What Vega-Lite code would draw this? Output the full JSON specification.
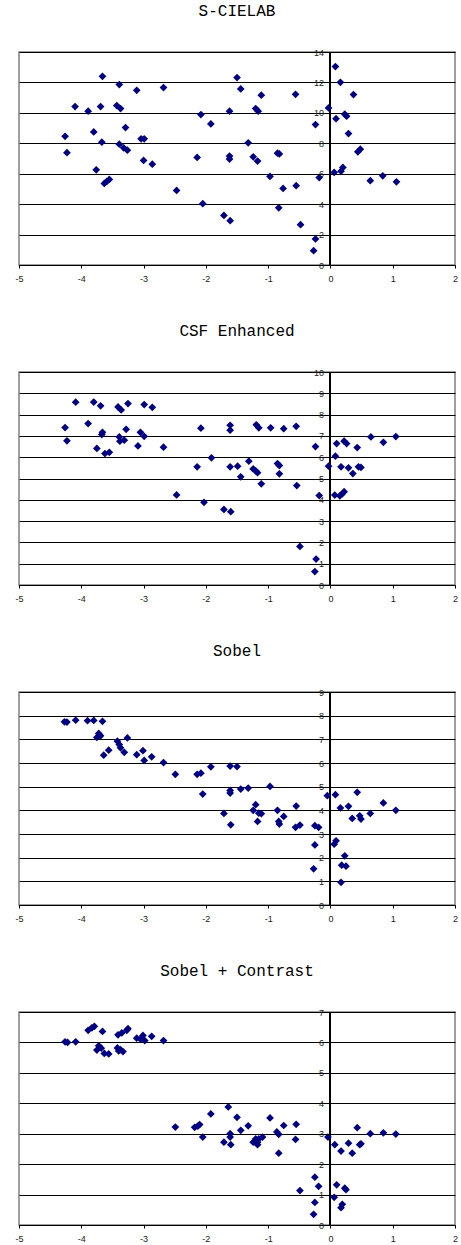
{
  "$schema": "https://vega.github.io/schema/vega-lite/v6.json",
  "background": "white",
  "padding": {"left": 14, "top": 2, "right": 5, "bottom": 3},
  "spacing": 107,
  "bounds": "flush",
  "config": {
    "view": {"stroke": "#808080", "strokeWidth": 1.5},
    "axis": {"grid": false, "labelFont": "Liberation Sans", "labelFontSize": 9, "labelColor": "#222222", "title": null},
    "title": {"font": "Liberation Mono", "fontSize": 16, "fontWeight": "normal", "color": "#000000", "offset": 29, "frame": "group", "anchor": "middle"}
  },
  "datasets": {
    "scielab": [
      {"x": -4.26, "y": 8.46}, {"x": -4.23, "y": 7.38}, {"x": -4.10, "y": 10.41}, {"x": -3.89, "y": 10.11},
      {"x": -3.80, "y": 8.75}, {"x": -3.66, "y": 12.40}, {"x": -3.69, "y": 10.41}, {"x": -3.67, "y": 8.07},
      {"x": -3.39, "y": 11.86}, {"x": -3.43, "y": 10.48}, {"x": -3.37, "y": 10.28}, {"x": -3.29, "y": 9.03},
      {"x": -3.39, "y": 7.94}, {"x": -3.32, "y": 7.70}, {"x": -3.26, "y": 7.55}, {"x": -3.11, "y": 11.48},
      {"x": -3.04, "y": 8.29}, {"x": -2.99, "y": 8.29}, {"x": -2.68, "y": 11.66}, {"x": -2.14, "y": 7.07},
      {"x": -2.08, "y": 9.89}, {"x": -1.92, "y": 9.27}, {"x": -1.62, "y": 10.11}, {"x": -1.50, "y": 12.32},
      {"x": -1.44, "y": 11.57}, {"x": -1.62, "y": 7.16}, {"x": -1.62, "y": 6.96}, {"x": -1.32, "y": 8.03},
      {"x": -1.20, "y": 10.28}, {"x": -1.16, "y": 10.11}, {"x": -1.11, "y": 11.16}, {"x": -1.24, "y": 7.11},
      {"x": -1.17, "y": 6.83}, {"x": -0.85, "y": 7.35}, {"x": -0.82, "y": 7.30}, {"x": -0.56, "y": 11.22},
      {"x": -0.24, "y": 9.23}, {"x": -0.03, "y": 10.32}, {"x": 0.08, "y": 13.04}, {"x": 0.16, "y": 12.01},
      {"x": 0.09, "y": 9.62}, {"x": 0.23, "y": 9.91}, {"x": 0.26, "y": 9.78}, {"x": 0.37, "y": 11.20},
      {"x": 0.29, "y": 8.64}, {"x": 0.44, "y": 7.44}, {"x": 0.48, "y": 7.61}, {"x": -3.76, "y": 6.26},
      {"x": -3.63, "y": 5.36}, {"x": -3.59, "y": 5.49}, {"x": -3.55, "y": 5.62}, {"x": -3.00, "y": 6.87},
      {"x": -2.86, "y": 6.63}, {"x": -2.47, "y": 4.90}, {"x": -2.05, "y": 4.03}, {"x": -1.71, "y": 3.26},
      {"x": -1.61, "y": 2.91}, {"x": -0.97, "y": 5.82}, {"x": -0.76, "y": 5.03}, {"x": -0.83, "y": 3.76},
      {"x": -0.55, "y": 5.21}, {"x": -0.48, "y": 2.65}, {"x": -0.18, "y": 5.75}, {"x": -0.24, "y": 1.71},
      {"x": -0.27, "y": 0.94}, {"x": 0.06, "y": 6.08}, {"x": 0.17, "y": 6.17}, {"x": 0.20, "y": 6.41},
      {"x": 0.64, "y": 5.54}, {"x": 0.84, "y": 5.86}, {"x": 1.06, "y": 5.47}
    ],
    "csf": [
      {"x": -4.26, "y": 7.39}, {"x": -4.23, "y": 6.77}, {"x": -4.09, "y": 8.58}, {"x": -3.89, "y": 7.58},
      {"x": -3.80, "y": 8.59}, {"x": -3.69, "y": 8.41}, {"x": -3.75, "y": 6.41}, {"x": -3.66, "y": 7.17},
      {"x": -3.67, "y": 7.06}, {"x": -3.62, "y": 6.17}, {"x": -3.55, "y": 6.23}, {"x": -3.41, "y": 8.36},
      {"x": -3.36, "y": 8.22}, {"x": -3.25, "y": 8.52}, {"x": -3.28, "y": 7.31}, {"x": -3.39, "y": 6.95},
      {"x": -3.38, "y": 6.75}, {"x": -3.31, "y": 6.80}, {"x": -3.05, "y": 7.17}, {"x": -2.99, "y": 6.98},
      {"x": -2.99, "y": 8.47}, {"x": -2.86, "y": 8.34}, {"x": -3.09, "y": 6.53}, {"x": -2.68, "y": 6.47},
      {"x": -2.08, "y": 7.36}, {"x": -1.61, "y": 7.50}, {"x": -1.61, "y": 7.27}, {"x": -1.91, "y": 5.97},
      {"x": -1.19, "y": 7.52}, {"x": -1.15, "y": 7.38}, {"x": -0.96, "y": 7.38}, {"x": -0.75, "y": 7.34},
      {"x": -0.55, "y": 7.45}, {"x": -0.24, "y": 6.50}, {"x": 0.10, "y": 6.64}, {"x": 0.22, "y": 6.75},
      {"x": 0.26, "y": 6.64}, {"x": 0.43, "y": 6.45}, {"x": 0.65, "y": 6.95}, {"x": 0.85, "y": 6.70},
      {"x": 1.05, "y": 6.97}, {"x": 0.08, "y": 6.05}, {"x": -2.14, "y": 5.55}, {"x": -1.61, "y": 5.55},
      {"x": -1.49, "y": 5.58}, {"x": -1.44, "y": 5.08}, {"x": -1.31, "y": 5.81}, {"x": -1.24, "y": 5.45},
      {"x": -1.20, "y": 5.36}, {"x": -1.17, "y": 5.27}, {"x": -1.11, "y": 4.75}, {"x": -0.85, "y": 5.70},
      {"x": -0.82, "y": 5.61}, {"x": -0.82, "y": 5.22}, {"x": -0.54, "y": 4.67}, {"x": -2.47, "y": 4.23},
      {"x": -2.03, "y": 3.88}, {"x": -1.71, "y": 3.55}, {"x": -1.60, "y": 3.44}, {"x": -0.49, "y": 1.81},
      {"x": -0.23, "y": 1.22}, {"x": -0.25, "y": 0.63}, {"x": -0.18, "y": 4.20}, {"x": -0.03, "y": 5.58},
      {"x": 0.07, "y": 4.22}, {"x": 0.17, "y": 5.55}, {"x": 0.15, "y": 4.19}, {"x": 0.19, "y": 4.28},
      {"x": 0.22, "y": 4.38}, {"x": 0.29, "y": 5.50}, {"x": 0.36, "y": 5.23}, {"x": 0.45, "y": 5.55},
      {"x": 0.49, "y": 5.52}
    ],
    "sobel": [
      {"x": -4.27, "y": 7.74}, {"x": -4.23, "y": 7.73}, {"x": -4.09, "y": 7.81}, {"x": -3.90, "y": 7.79},
      {"x": -3.80, "y": 7.80}, {"x": -3.66, "y": 7.76}, {"x": -3.72, "y": 7.25}, {"x": -3.75, "y": 7.08},
      {"x": -3.69, "y": 7.15}, {"x": -3.64, "y": 6.33}, {"x": -3.56, "y": 6.54}, {"x": -3.42, "y": 6.92},
      {"x": -3.39, "y": 6.78}, {"x": -3.37, "y": 6.64}, {"x": -3.31, "y": 6.45}, {"x": -3.26, "y": 7.06},
      {"x": -3.11, "y": 6.35}, {"x": -3.01, "y": 6.52}, {"x": -2.99, "y": 6.11}, {"x": -2.87, "y": 6.26},
      {"x": -2.68, "y": 6.02}, {"x": -2.49, "y": 5.52}, {"x": -2.14, "y": 5.52}, {"x": -2.08, "y": 5.57},
      {"x": -1.92, "y": 5.84}, {"x": -1.61, "y": 5.87}, {"x": -1.50, "y": 5.85}, {"x": -2.05, "y": 4.69},
      {"x": -1.61, "y": 4.84}, {"x": -1.61, "y": 4.73}, {"x": -1.44, "y": 4.90}, {"x": -1.32, "y": 4.94},
      {"x": -0.97, "y": 5.01}, {"x": -1.71, "y": 3.87}, {"x": -1.60, "y": 3.39}, {"x": -1.20, "y": 4.24},
      {"x": -1.24, "y": 4.00}, {"x": -1.15, "y": 3.88}, {"x": -1.11, "y": 3.86}, {"x": -1.17, "y": 3.53},
      {"x": -0.85, "y": 4.00}, {"x": -0.83, "y": 3.53}, {"x": -0.82, "y": 3.42}, {"x": -0.75, "y": 3.74},
      {"x": -0.55, "y": 4.18}, {"x": -0.56, "y": 3.28}, {"x": -0.49, "y": 3.38}, {"x": -0.25, "y": 3.35},
      {"x": -0.19, "y": 3.28}, {"x": -0.25, "y": 2.54}, {"x": -0.27, "y": 1.53}, {"x": -0.05, "y": 4.62},
      {"x": 0.08, "y": 4.66}, {"x": 0.06, "y": 2.57}, {"x": 0.09, "y": 2.71}, {"x": 0.16, "y": 4.10},
      {"x": 0.29, "y": 4.17}, {"x": 0.43, "y": 4.76}, {"x": 0.35, "y": 3.66}, {"x": 0.47, "y": 3.77},
      {"x": 0.49, "y": 3.63}, {"x": 0.64, "y": 3.87}, {"x": 0.85, "y": 4.31}, {"x": 1.05, "y": 4.00},
      {"x": 0.23, "y": 2.08}, {"x": 0.18, "y": 1.68}, {"x": 0.25, "y": 1.64}, {"x": 0.17, "y": 0.96}
    ],
    "contrast": [
      {"x": -4.26, "y": 6.02}, {"x": -4.22, "y": 6.00}, {"x": -4.09, "y": 6.02}, {"x": -3.89, "y": 6.40},
      {"x": -3.83, "y": 6.48}, {"x": -3.79, "y": 6.53}, {"x": -3.66, "y": 6.36}, {"x": -3.72, "y": 5.89},
      {"x": -3.75, "y": 5.75}, {"x": -3.68, "y": 5.81}, {"x": -3.63, "y": 5.64}, {"x": -3.56, "y": 5.62},
      {"x": -3.41, "y": 6.25}, {"x": -3.35, "y": 6.31}, {"x": -3.27, "y": 6.40}, {"x": -3.25, "y": 6.45},
      {"x": -3.42, "y": 5.82}, {"x": -3.37, "y": 5.76}, {"x": -3.33, "y": 5.70}, {"x": -3.40, "y": 5.72},
      {"x": -3.11, "y": 6.14}, {"x": -3.05, "y": 6.11}, {"x": -3.01, "y": 6.23}, {"x": -2.98, "y": 6.06},
      {"x": -2.87, "y": 6.20}, {"x": -2.68, "y": 6.06}, {"x": -2.49, "y": 3.22}, {"x": -2.18, "y": 3.21},
      {"x": -2.13, "y": 3.25}, {"x": -2.10, "y": 3.30}, {"x": -2.05, "y": 2.89}, {"x": -1.92, "y": 3.65},
      {"x": -1.64, "y": 3.88}, {"x": -1.61, "y": 3.00}, {"x": -1.61, "y": 2.89}, {"x": -1.71, "y": 2.72},
      {"x": -1.60, "y": 2.64}, {"x": -1.50, "y": 3.54}, {"x": -1.44, "y": 3.11}, {"x": -1.32, "y": 3.26},
      {"x": -0.97, "y": 3.52}, {"x": -1.24, "y": 2.72}, {"x": -1.20, "y": 2.83}, {"x": -1.17, "y": 2.72},
      {"x": -1.15, "y": 2.83}, {"x": -1.17, "y": 2.64}, {"x": -1.09, "y": 2.89}, {"x": -0.86, "y": 3.06},
      {"x": -0.83, "y": 2.98}, {"x": -0.75, "y": 3.27}, {"x": -0.83, "y": 2.36}, {"x": -0.55, "y": 3.31},
      {"x": -0.56, "y": 2.81}, {"x": -0.49, "y": 1.13}, {"x": -0.25, "y": 1.57}, {"x": -0.19, "y": 1.27},
      {"x": -0.25, "y": 0.74}, {"x": -0.27, "y": 0.35}, {"x": -0.04, "y": 2.89}, {"x": 0.07, "y": 2.64},
      {"x": 0.17, "y": 2.43}, {"x": 0.29, "y": 2.69}, {"x": 0.35, "y": 2.36}, {"x": 0.43, "y": 3.20},
      {"x": 0.47, "y": 2.64}, {"x": 0.49, "y": 2.67}, {"x": 0.64, "y": 3.00}, {"x": 0.85, "y": 3.03},
      {"x": 1.05, "y": 2.99}, {"x": 0.10, "y": 1.32}, {"x": 0.06, "y": 0.91}, {"x": 0.23, "y": 1.21},
      {"x": 0.25, "y": 1.16}, {"x": 0.19, "y": 0.68}, {"x": 0.17, "y": 0.57}
    ]
  },
  "vconcat": [
    {
      "title": {"text": "S-CIELAB"},
      "width": 436, "height": 213,
      "data": {"name": "scielab"},
      "resolve": {"axis": {"y": "independent"}},
      "layer": [
        {
          "mark": {"type": "rule", "color": "#000000", "strokeWidth": 1},
          "encoding": {
            "x": {"datum": 0, "type": "quantitative", "scale": {"domain": [-5, 2], "nice": false, "zero": false}},
            "y": {"datum": 0, "type": "quantitative", "scale": {"domain": [0, 14], "nice": false},
                  "axis": {"orient": "left", "offset": -311.43, "domain": false, "ticks": true, "tickSize": 5, "tickColor": "#000000", "labelPadding": 2, "values": [0, 2, 4, 6, 8, 10, 12, 14], "zindex": 1}},
            "y2": {"datum": 14}
          }
        },
        {
          "mark": {"type": "point", "shape": "diamond", "filled": true, "size": 60, "color": "#000080", "opacity": 1},
          "encoding": {
            "x": {"field": "x", "type": "quantitative", "scale": {"domain": [-5, 2], "nice": false, "zero": false},
                  "axis": {"orient": "bottom", "values": [-5, -4, -3, -2, -1, 0, 1, 2], "labelExpr": "'' + datum.value", "domainColor": "#000000", "domainWidth": 1, "tickColor": "#000000", "tickSize": 3, "labelPadding": 6, "labelFlush": false}},
            "y": {"field": "y", "type": "quantitative", "scale": {"domain": [0, 14], "nice": false},
                  "axis": {"orient": "left", "grid": true, "gridColor": "#000000", "gridWidth": 1, "gridOpacity": 1, "labels": false, "ticks": false, "domain": false, "values": [0, 2, 4, 6, 8, 10, 12, 14]}}
          }
        }
      ]
    },
    {
      "title": {"text": "CSF Enhanced"},
      "width": 436, "height": 213,
      "data": {"name": "csf"},
      "resolve": {"axis": {"y": "independent"}},
      "layer": [
        {
          "mark": {"type": "rule", "color": "#000000", "strokeWidth": 1},
          "encoding": {
            "x": {"datum": 0, "type": "quantitative", "scale": {"domain": [-5, 2], "nice": false, "zero": false}},
            "y": {"datum": 0, "type": "quantitative", "scale": {"domain": [0, 10], "nice": false},
                  "axis": {"orient": "left", "offset": -311.43, "domain": false, "ticks": true, "tickSize": 5, "tickColor": "#000000", "labelPadding": 2, "values": [0, 1, 2, 3, 4, 5, 6, 7, 8, 9, 10], "zindex": 1}},
            "y2": {"datum": 10}
          }
        },
        {
          "mark": {"type": "point", "shape": "diamond", "filled": true, "size": 60, "color": "#000080", "opacity": 1},
          "encoding": {
            "x": {"field": "x", "type": "quantitative", "scale": {"domain": [-5, 2], "nice": false, "zero": false},
                  "axis": {"orient": "bottom", "values": [-5, -4, -3, -2, -1, 0, 1, 2], "labelExpr": "'' + datum.value", "domainColor": "#000000", "domainWidth": 1, "tickColor": "#000000", "tickSize": 3, "labelPadding": 6, "labelFlush": false}},
            "y": {"field": "y", "type": "quantitative", "scale": {"domain": [0, 10], "nice": false},
                  "axis": {"orient": "left", "grid": true, "gridColor": "#000000", "gridWidth": 1, "gridOpacity": 1, "labels": false, "ticks": false, "domain": false, "values": [0, 1, 2, 3, 4, 5, 6, 7, 8, 9, 10]}}
          }
        }
      ]
    },
    {
      "title": {"text": "Sobel"},
      "width": 436, "height": 213,
      "data": {"name": "sobel"},
      "resolve": {"axis": {"y": "independent"}},
      "layer": [
        {
          "mark": {"type": "rule", "color": "#000000", "strokeWidth": 1},
          "encoding": {
            "x": {"datum": 0, "type": "quantitative", "scale": {"domain": [-5, 2], "nice": false, "zero": false}},
            "y": {"datum": 0, "type": "quantitative", "scale": {"domain": [0, 9], "nice": false},
                  "axis": {"orient": "left", "offset": -311.43, "domain": false, "ticks": true, "tickSize": 5, "tickColor": "#000000", "labelPadding": 2, "values": [0, 1, 2, 3, 4, 5, 6, 7, 8, 9], "zindex": 1}},
            "y2": {"datum": 9}
          }
        },
        {
          "mark": {"type": "point", "shape": "diamond", "filled": true, "size": 60, "color": "#000080", "opacity": 1},
          "encoding": {
            "x": {"field": "x", "type": "quantitative", "scale": {"domain": [-5, 2], "nice": false, "zero": false},
                  "axis": {"orient": "bottom", "values": [-5, -4, -3, -2, -1, 0, 1, 2], "labelExpr": "'' + datum.value", "domainColor": "#000000", "domainWidth": 1, "tickColor": "#000000", "tickSize": 3, "labelPadding": 6, "labelFlush": false}},
            "y": {"field": "y", "type": "quantitative", "scale": {"domain": [0, 9], "nice": false},
                  "axis": {"orient": "left", "grid": true, "gridColor": "#000000", "gridWidth": 1, "gridOpacity": 1, "labels": false, "ticks": false, "domain": false, "values": [0, 1, 2, 3, 4, 5, 6, 7, 8, 9]}}
          }
        }
      ]
    },
    {
      "title": {"text": "Sobel + Contrast"},
      "width": 436, "height": 213,
      "data": {"name": "contrast"},
      "resolve": {"axis": {"y": "independent"}},
      "layer": [
        {
          "mark": {"type": "rule", "color": "#000000", "strokeWidth": 1},
          "encoding": {
            "x": {"datum": 0, "type": "quantitative", "scale": {"domain": [-5, 2], "nice": false, "zero": false}},
            "y": {"datum": 0, "type": "quantitative", "scale": {"domain": [0, 7], "nice": false},
                  "axis": {"orient": "left", "offset": -311.43, "domain": false, "ticks": true, "tickSize": 5, "tickColor": "#000000", "labelPadding": 2, "values": [0, 1, 2, 3, 4, 5, 6, 7], "zindex": 1}},
            "y2": {"datum": 7}
          }
        },
        {
          "mark": {"type": "point", "shape": "diamond", "filled": true, "size": 60, "color": "#000080", "opacity": 1},
          "encoding": {
            "x": {"field": "x", "type": "quantitative", "scale": {"domain": [-5, 2], "nice": false, "zero": false},
                  "axis": {"orient": "bottom", "values": [-5, -4, -3, -2, -1, 0, 1, 2], "labelExpr": "'' + datum.value", "domainColor": "#000000", "domainWidth": 1, "tickColor": "#000000", "tickSize": 3, "labelPadding": 6, "labelFlush": false}},
            "y": {"field": "y", "type": "quantitative", "scale": {"domain": [0, 7], "nice": false},
                  "axis": {"orient": "left", "grid": true, "gridColor": "#000000", "gridWidth": 1, "gridOpacity": 1, "labels": false, "ticks": false, "domain": false, "values": [0, 1, 2, 3, 4, 5, 6, 7]}}
          }
        }
      ]
    }
  ]
}
